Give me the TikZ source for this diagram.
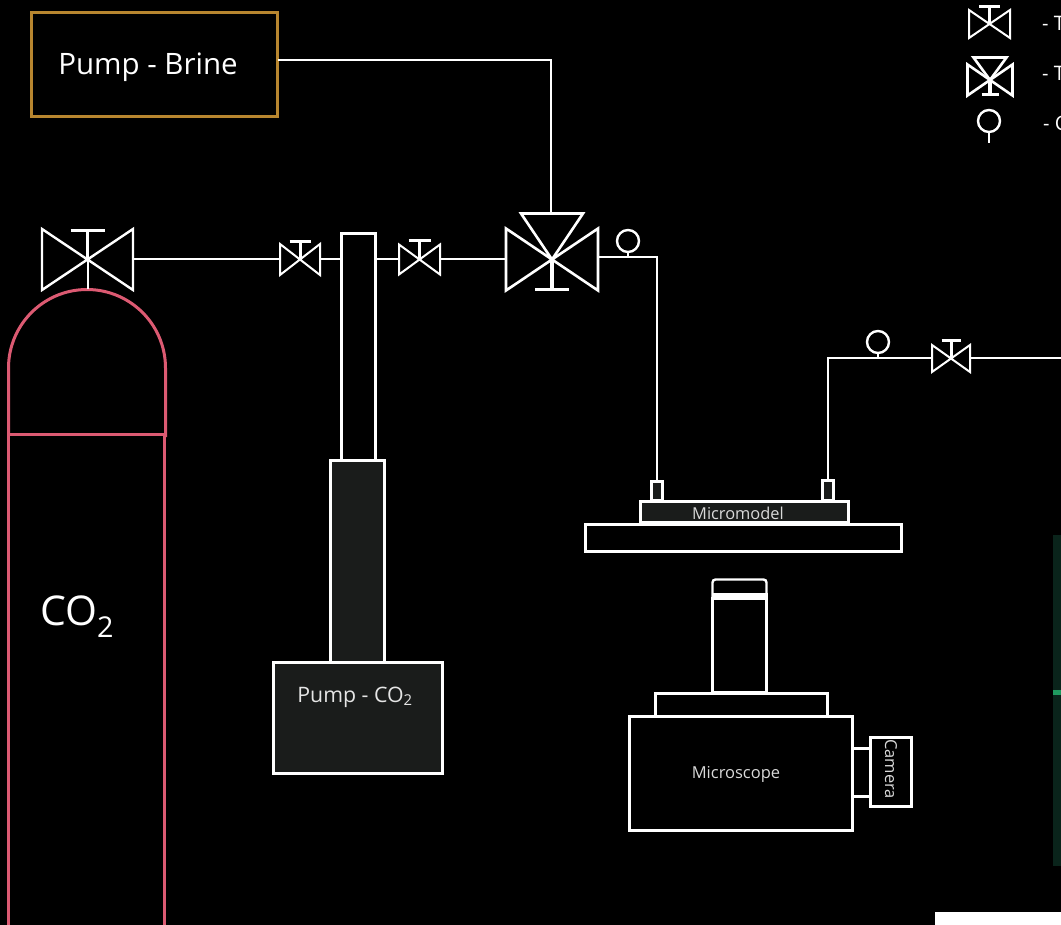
\documentclass[tikz,border=0pt]{standalone}
\usepackage{fontspec}
\setmainfont{Open Sans}
\usetikzlibrary{positioning, calc}
\definecolor{panel}{HTML}{1A1C1B}
\definecolor{brinebox}{HTML}{B8862F}
\definecolor{tank}{HTML}{DC5A72}
\definecolor{screen}{HTML}{0A241B}
\definecolor{glow}{HTML}{1F9A5F}
\tikzset{
  pipe/.style={white, line width=2pt},
  part/.style={draw=white, line width=3pt, inner sep=0pt, outer sep=0pt, anchor=north west},
  gauge/.style={circle, draw=white, line width=2.4pt, minimum size=22pt, inner sep=0pt, outer sep=0pt},
  label/.style={text=white, inner sep=0pt},
  pics/valve/.style n args={5}{code={
    \draw[white, line width=#5] (-#1,-#2) -- (#1,#2) -- (#1,-#2) -- (-#1,#2) -- cycle;
    \draw[white, line width=#5+1pt] (0,0) -- (0,-#3);
    \draw[white, line width=#5+1pt] (-#4,-#3) -- (#4,-#3);
    \coordinate (-w) at (-#1,0);
    \coordinate (-e) at (#1,0);
    \coordinate (-c) at (0,0);
  }},
  pics/threeway/.style n args={6}{code={
    \draw[white, line width=2.6pt] (-#1,-#2) -- (#1,#2) -- (#1,-#2) -- (-#1,#2) -- cycle;
    \draw[white, line width=2.6pt] (0,0) -- (-#4,-#3) -- (#4,-#3) -- cycle;
    \draw[white, line width=3.4pt] (0,0) -- (0,#5);
    \draw[white, line width=3.4pt] (-#6,#5) -- (#6,#5);
    \coordinate (-w) at (-#1,0);
    \coordinate (-e) at (#1,0);
    \coordinate (-n) at (0,-#3);
  }},
}
\begin{document}
\begin{tikzpicture}[x=1pt, y=-1pt]
  \fill[black] (0,0) rectangle (1061,925);
  \useasboundingbox (0,0) rectangle (1061,925);

  % leftovers at the page edge
  \fill[screen] (1053,535) rectangle (1061,866);
  \fill[glow] (1053,690) rectangle (1061,695);
  \fill[white] (935,912) rectangle (1061,925);

  % brine pump
  \node[part, draw=brinebox, minimum width=246pt, minimum height=104pt] (brine) at (31.5,12.5) {};
  \node[label, font=\fontsize{29.5}{32}\selectfont] (brinetxt) at (148,67) {Pump - Brine};

  % gas cylinder
  \draw[tank, line width=3pt] (165.5,437) -- (165.5,368) arc[start angle=0, end angle=-180, radius=78.5] -- (8.5,434);
  \draw[tank, line width=3pt] (8.5,434.5) rectangle (164.5,930);
  \coordinate (tanktop) at (87.5,289);
  \node[label, font=\fontsize{41}{44}\selectfont] (co2) at (77,617) {CO\textsubscript{2}};

  % CO2 pump
  \node[part, minimum width=34pt, minimum height=227pt] (barrel) at (341.5,233.5) {};
  \node[part, fill=panel, minimum width=54pt, minimum height=202pt] (piston) at (330.5,460.5) {};
  \node[part, fill=panel, minimum width=169pt, minimum height=111pt] (co2pump) at (273.5,662.5) {};
  \node[label, font=\fontsize{21.3}{24}\selectfont, text=white!90!black] (co2txt) at (355,697) {Pump - CO\textsubscript{2}};

  % valves
  \pic (v1) at (87.5,259.5) {valve={45.5}{30.5}{29}{17}{2.4pt}};
  \pic (v2) at (300,259.5) {valve={20}{15.5}{18}{10.5}{2pt}};
  \pic (v3) at (419.5,259.5) {valve={20.5}{15}{19}{11}{2pt}};
  \pic (v4) at (552,259.5) {threeway={46}{31}{46}{31}{30}{17}};
  \pic (v5) at (951,358.5) {valve={19}{13.5}{18}{9.5}{2pt}};

  % gauges
  \node[gauge] (g1) at (628,241) {};
  \node[gauge] (g2) at (878,342) {};

  % micromodel
  \node[part, minimum width=316pt, minimum height=27pt] (stage) at (585.5,524.5) {};
  \node[part, fill=panel, minimum width=208pt, minimum height=21pt] (chip) at (640.5,501.5) {};
  \node[part, fill=panel, minimum width=11pt, minimum height=19pt] (portin) at (651.5,481.5) {};
  \node[part, fill=panel, minimum width=11pt, minimum height=20pt] (portout) at (822.5,480.5) {};
  \node[label, font=\fontsize{16.4}{18}\selectfont, text=white!85!black] (chiptxt) at (738,513.5) {Micromodel};

  % microscope
  \draw[white, line width=2.4pt, rounded corners=3pt] (712.5,597) -- (712.5,579.5) -- (766.5,579.5) -- (766.5,597);
  \fill[white] (711.5,593) rectangle (767.5,598);
  \node[part, minimum width=54pt, minimum height=94pt] (tube) at (712.5,598.5) {};
  \node[part, minimum width=172pt, minimum height=23pt] (collar) at (655.5,693.5) {};
  \node[part, minimum width=223pt, minimum height=114pt] (scope) at (629.5,716.5) {};
  \node[part, minimum width=41pt, minimum height=69pt] (camera) at (870.5,737.5) {};
  \node[label, font=\fontsize{16.5}{18}\selectfont, text=white!85!black] (scopetxt) at (736,774) {Microscope};
  \node[label, rotate=-90, font=\fontsize{16.5}{18}\selectfont, text=white!85!black] (camtxt) at (891,769) {Camera};
  \draw[white, line width=3pt] (scope.east |- 0,748.5) -- (camera.west |- 0,748.5);
  \draw[white, line width=3pt] (scope.east |- 0,796.5) -- (camera.west |- 0,796.5);

  % pipes
  \coordinate (out) at (1061,358.5);
  \draw[pipe] ($(brine.east)+(0,-4.5)$) -| ($(v4-n)+(-1.5,0)$);
  \draw[pipe] (v1-c) -- (tanktop);
  \draw[pipe] (v1-e) -- (v2-w);
  \draw[pipe] (v2-e) -- (barrel.west |- v2-e);
  \draw[pipe] (barrel.east |- v3-w) -- (v3-w);
  \draw[pipe] (v3-e) -- (v4-w);
  \draw[pipe] ($(v4-e)+(0,-2)$) -| (portin.north);
  \draw[pipe] (g1.south) -- ++(0,5);
  \draw[pipe] (portout.north) |- (v5-w);
  \draw[pipe] (g2.south) -- ++(0,5);
  \draw[pipe] (v5-e) -- (out);

  % legend
  \pic (lg1) at (989.5,24) {valve={20.5}{14}{17.5}{10.5}{2pt}};
  \pic (lg2) at (990,80) {threeway={22.5}{15.5}{22.5}{16.5}{14.5}{8.5}};
  \node[gauge] (lg3) at (989,121) {};
  \draw[pipe] (lg3.south) -- ++(0,11);
  \node[label, anchor=west, font=\fontsize{20}{24}\selectfont] (lt1) at (1042,23) {- T};
  \node[label, anchor=west, font=\fontsize{20}{24}\selectfont] (lt2) at (1042,73) {- T};
  \node[label, anchor=west, font=\fontsize{20}{24}\selectfont] (lt3) at (1043,123) {- C};
\end{tikzpicture}
\end{document}
